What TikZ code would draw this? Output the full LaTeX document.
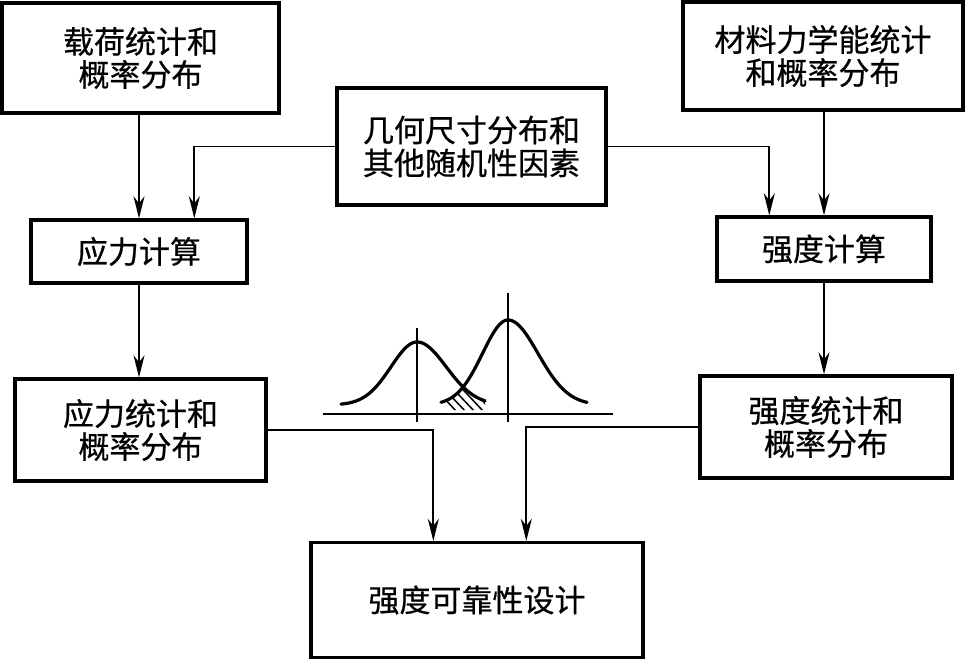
\documentclass[tikz,border=0pt]{standalone}
\usepackage{fontspec}
\newfontfamily\cjk[FakeBold=0.6]{Noto Sans CJK SC}
\usetikzlibrary{arrows.meta}
\begin{document}
\begin{tikzpicture}[x=1pt,y=-1pt,
  box/.style={draw, line width=3.4pt, align=center, inner sep=0pt,
    font=\cjk\fontsize{31pt}{33pt}\selectfont},
  conn/.style={line width=1.8pt, -{Stealth[length=22pt,width=11pt,inset=7pt]}},
  plain/.style={line width=1.8pt},
  curve/.style={line width=3.2pt, line cap=round},
  hatch/.style={line width=1.5pt}]
\useasboundingbox (0,0) rectangle (966,660);
% boxes
\node[box, minimum width=277pt, minimum height=110pt] (b1) at (140.5,58) {载荷统计和\\概率分布};
\node[box, minimum width=280pt, minimum height=108pt] (b2) at (823,56) {材料力学能统计\\和概率分布};
\node[box, minimum width=269pt, minimum height=117pt] (b3) at (471.5,146.5) {几何尺寸分布和\\其他随机性因素};
\node[box, minimum width=216pt, minimum height=63pt] (b4) at (139,251.5) {应力计算};
\node[box, minimum width=214pt, minimum height=64pt] (b5) at (824,249) {强度计算};
\node[box, minimum width=251pt, minimum height=102pt] (b6) at (140.5,430) {应力统计和\\概率分布};
\node[box, minimum width=252pt, minimum height=102pt] (b7) at (826,427) {强度统计和\\概率分布};
\node[box, minimum width=332pt, minimum height=115pt] (b8) at (477,600) {强度可靠性设计};
% connectors
\draw[conn] (b4.north |- b1.south) -- (b4.north);
\draw[conn] (b3.west) -| ([xshift=165pt]b4.north west);
\draw[conn] (b3.east) -| ([xshift=54pt]b5.north west);
\draw[conn] (b5.north |- b2.south) -- (b5.north);
\draw[conn] (b4.south) -- (b4.south |- b6.north);
\draw[conn] (b5.south) -- (b5.south |- b7.north);
\draw[conn] (b6.east) -| ([xshift=124pt]b8.north west);
\draw[conn] (b7.west) -| ([xshift=217pt]b8.north west);
% distribution sketch
\draw[plain] (323,414) -- (613,414);
\draw[plain] (417,328) -- (417,422);
\draw[plain] (508,293) -- (508,422);
\draw[curve] plot[domain=341:417, samples=50] (\x,{405-63*exp(-((\x-417)^2)/1350)})
  -- plot[domain=417:485, samples=50] (\x,{405-63*exp(-((\x-417)^2)/1700)});
\draw[curve] plot[domain=441:508, samples=50] (\x,{405-85*exp(-((\x-508)^2)/1300)})
  -- plot[domain=508:587, samples=50] (\x,{405-85*exp(-((\x-508)^2)/1800)});
\begin{scope}
  \clip plot[domain=441:462, samples=20] (\x,{405-85*exp(-((\x-508)^2)/1300)})
    -- plot[domain=462:485, samples=20] (\x,{405-63*exp(-((\x-417)^2)/1700)})
    -- (485,410) -- (441,410) -- cycle;
  \foreach \i in {0,...,6} {
    \draw[hatch] (425+9*\i,378) -- (457+9*\i,412);
  }
\end{scope}
\end{tikzpicture}
\end{document}
